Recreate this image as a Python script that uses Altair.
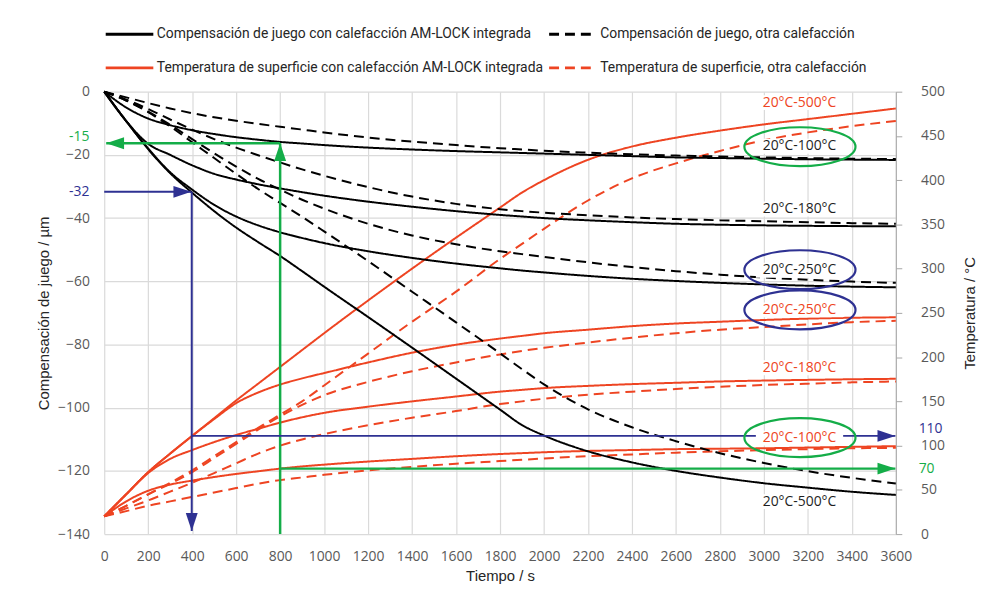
import altair as alt
import pandas as pd

# ---------------- data ----------------
tiempo = [0, 100, 200, 300, 400, 500, 600, 700, 800, 900, 1000, 1200, 1400, 1600,
          1800, 1900, 2000, 2200, 2400, 2600, 2800, 3000, 3200, 3400, 3600]

# Compensación de juego / µm, calefacción AM-LOCK integrada
juego_am_100 = [0, -5, -8.5, -10.6, -12.2, -13.4, -14.4, -15.2, -15.9, -16.4, -16.9, -17.7, -18.3,
                -18.8, -19.2, -19.4, -19.6, -20.0, -20.4, -20.8, -21.0, -21.2, -21.4, -21.5, -21.6]
juego_am_180 = [0, -9.3, -16.5, -20, -23.3, -26, -27.8, -29.3, -30.6, -31.8, -32.9, -34.8, -36.4,
                -37.8, -39.0, -39.5, -40.0, -40.7, -41.3, -41.8, -42.1, -42.3, -42.45, -42.55, -42.6]
juego_am_250 = [0, -9.3, -18, -25.5, -31, -35.8, -39.5, -42.3, -44.5, -46.3, -47.9, -50.5, -52.6,
                -54.4, -55.9, -56.6, -57.2, -58.3, -59.2, -59.9, -60.5, -61.0, -61.4, -61.7, -61.9]
juego_am_500 = [0, -9.3, -18.2, -25.8, -32, -37.8, -43, -47.6, -52, -56.8, -61.7, -71.3, -81,
                -90.8, -100.6, -105.5, -108.8, -113.8, -117.3, -120, -122.1, -123.9, -125.3, -126.6, -127.6]

# Compensación de juego / µm, otra calefacción
juego_otra_100 = [0, -1.8, -3.6, -5.3, -6.8, -8.1, -9.2, -10.2, -11.1, -12, -12.9, -14.5, -15.8,
                  -16.9, -17.9, -18.3, -18.7, -19.3, -19.8, -20.2, -20.5, -20.8, -21.0, -21.2, -21.3]
juego_otra_180 = [0, -2.5, -5.5, -8.8, -12, -15, -17.7, -20.1, -22.4, -24.6, -26.6, -30.2, -33.2,
                  -35.5, -37.2, -37.8, -38.3, -39.1, -39.8, -40.3, -40.7, -41.0, -41.3, -41.6, -41.8]
juego_otra_250 = [0, -2.8, -6.3, -10.5, -15, -19.5, -23.7, -27.6, -31, -34.2, -37, -41.8, -45.5,
                  -48.3, -50.5, -51.4, -52.3, -54, -55.5, -56.8, -57.9, -58.8, -59.5, -60.1, -60.5]
juego_otra_500 = [0, -2.8, -6.5, -11, -16, -21, -26, -30.8, -35.2, -39.6, -44.2, -53.6, -63.3,
                  -73, -82.8, -87.8, -92.6, -100.5, -106.2, -110.6, -114.4, -117.5, -120.1, -122.2, -124]

# Temperatura de superficie / °C, calefacción AM-LOCK integrada
temp_am_100 = [20, 37, 49, 56, 60.5, 64.5, 68, 71, 74, 76.5, 78.5, 82, 85, 88, 90.5, 91.5, 92.5,
               94, 95, 96, 96.5, 97, 97.8, 98.6, 99.4]
temp_am_180 = [20, 45, 69, 85, 95, 104, 112, 119, 126, 132, 137, 144, 150, 155.5, 161, 163, 165,
               167.5, 169.5, 171, 172.5, 173.5, 174.3, 175, 175.5]
temp_am_250 = [20, 45, 70, 91, 111, 130, 148, 160, 169, 176, 182, 194, 205, 214, 221, 224, 227,
               231, 235, 238, 240, 242, 243.5, 244.5, 245]
temp_am_500 = [20, 45, 70, 91, 111, 131, 151, 170, 189, 208, 227, 264, 300, 335, 369, 386, 400,
               423, 438, 448, 456, 463, 469, 475, 481]

# Temperatura de superficie / °C, otra calefacción
temp_otra_100 = [20, 26, 32, 37, 42, 47, 52, 57, 61, 64, 67, 72, 76, 79.5, 82.5, 84, 85.5, 88, 90,
                 92, 93.5, 95, 96, 97, 97.5]
temp_otra_180 = [20, 29, 38, 48, 58, 69, 80, 91, 100, 107, 113, 123, 131.5, 139, 147, 150, 153,
                 157.5, 161, 164, 166.5, 168.5, 170, 171.5, 172.5]
temp_otra_250 = [20, 32, 45, 57, 70, 86, 102, 118, 133, 146, 157, 172, 184, 194, 203, 207, 210.5,
                 216.5, 222, 227, 231, 234, 237, 239.5, 241]
temp_otra_500 = [20, 32, 45, 58, 72, 88, 104, 120, 135, 150, 168, 204, 240, 274, 311, 328, 345,
                 377, 402, 419, 433, 445, 454, 461, 467]

serie_juego_am = "Compensación de juego con calefacción AM-LOCK integrada"
serie_juego_otra = "Compensación de juego, otra calefacción"
serie_temp_am = "Temperatura de superficie con calefacción AM-LOCK integrada"
serie_temp_otra = "Temperatura de superficie, otra calefacción"
# legend entries are laid out column by column: first column, then second column
legend_order = [serie_juego_am, serie_temp_am, serie_juego_otra, serie_temp_otra]

x_ticks = [0, 200, 400, 600, 800, 1000, 1200, 1400, 1600, 1800, 2000, 2200, 2400, 2600, 2800,
           3000, 3200, 3400, 3600]
left_ticks = [0, -20, -40, -60, -80, -100, -120, -140]
right_ticks = [0, 50, 100, 150, 200, 250, 300, 350, 400, 450, 500]

# curve labels (x = tiempo, y = temperatura scale)
label_t = 3162
red_label_text = ["20°C-500°C", "20°C-250°C", "20°C-180°C", "20°C-100°C"]
red_label_y = [487.7, 253.4, 188, 108.4]
dark_label_text = ["20°C-100°C", "20°C-180°C", "20°C-250°C", "20°C-500°C"]
dark_label_y = [438.3, 367.4, 298.2, 36.7]
green_ellipse_y = [437.8, 109]
blue_ellipse_y = [298.8, 253.4]
ellipse_t = 3164

# reading arrows
green_t = 800
green_um = -16.3
green_um_label = ["-15"]
green_um_label_y = [-15]
green_temp = 74
green_temp_label = ["70"]
blue_t = 398
blue_um = -31.7
blue_um_label = ["-32"]
blue_temp = 111
blue_temp_label = ["110"]

# ---------------- styling ----------------
RED = "#ee4422"
BLACK = "#000000"
DARK = "#1e1e1e"
GREEN = "#14ad48"
BLUE = "#2e3192"
GRID = "#dadada"
TICK_TXT = "#595959"
TITLE_TXT = "#262626"
NUM_FONT = "Open Sans"
TITLE_FONT = "Liberation Sans"

ELLIPSE = ("M -1 0 C -1 -0.1933 -0.5523 -0.35 0 -0.35 C 0.5523 -0.35 1 -0.1933 1 0 "
           "C 1 0.1933 0.5523 0.35 0 0.35 C -0.5523 0.35 -1 0.1933 -1 0 Z")
BOX = "M -1 -0.17 L 1 -0.17 L 1 0.17 L -1 0.17 Z"
HEAD_R = "M 0 0 L -2 -0.667 L -2 0.667 Z"
HEAD_L = "M 0 0 L 2 -0.667 L 2 0.667 Z"
HEAD_U = "M 0 0 L -0.667 2 L 0.667 2 Z"
HEAD_D = "M 0 0 L -0.667 -2 L 0.667 -2 Z"

# ---------------- tables ----------------
def long_rows(serie, curva, vals):
    return [{"t": t, "v": v, "serie": serie, "curva": f"{serie} {curva}"} for t, v in zip(tiempo, vals)]

rows_j = []
for c, vals in [("100", juego_am_100), ("180", juego_am_180), ("250", juego_am_250), ("500", juego_am_500)]:
    rows_j += long_rows(serie_juego_am, c, vals)
for c, vals in [("100", juego_otra_100), ("180", juego_otra_180), ("250", juego_otra_250), ("500", juego_otra_500)]:
    rows_j += long_rows(serie_juego_otra, c, vals)
df_j = pd.DataFrame(rows_j)

rows_t = []
for c, vals in [("100", temp_am_100), ("180", temp_am_180), ("250", temp_am_250), ("500", temp_am_500)]:
    rows_t += long_rows(serie_temp_am, c, vals)
for c, vals in [("100", temp_otra_100), ("180", temp_otra_180), ("250", temp_otra_250), ("500", temp_otra_500)]:
    rows_t += long_rows(serie_temp_otra, c, vals)
df_t = pd.DataFrame(rows_t)

# ---------------- scales / axes ----------------
x_scale = alt.Scale(domain=[0, 3600], nice=False)
x_axis = alt.Axis(values=x_ticks, format="d", title="Tiempo / s", grid=True, gridColor=GRID,
                  gridWidth=1.2, domain=False, ticks=False, labelPadding=16, labelFont=NUM_FONT,
                  labelFontSize=14, labelColor=TICK_TXT, labelOverlap=False, labelFlush=False,
                  titleFont=TITLE_FONT, titleFontSize=15, titleFontWeight="normal",
                  titleColor=TITLE_TXT, titlePadding=5)
X = alt.X("t:Q", scale=x_scale, axis=x_axis)

yl_scale = alt.Scale(domain=[-140, 0], nice=False)
yl_axis = alt.Axis(values=left_ticks, orient="left", title="Compensación de juego / µm", grid=True,
                   gridColor=GRID, gridWidth=1.2, domain=False, ticks=False, labelPadding=15,
                   labelFont=NUM_FONT, labelFontSize=14, labelColor=TICK_TXT, labelOverlap=False,
                   titleFont=TITLE_FONT, titleFontSize=15, titleFontWeight="normal",
                   titleColor=TITLE_TXT, titlePadding=6)
yr_scale = alt.Scale(domain=[0, 500], nice=False)
yr_axis = alt.Axis(values=right_ticks, orient="right", title="Temperatura / °C", grid=False,
                   domain=True, domainColor="#a6a6a6", ticks=True, tickColor="#a6a6a6", tickSize=6,
                   labelPadding=19, labelFont=NUM_FONT, labelFontSize=14, labelColor=TICK_TXT,
                   labelOverlap=False, titleFont=TITLE_FONT, titleFontSize=15,
                   titleFontWeight="normal", titleColor=TITLE_TXT, titleAngle=270, titlePadding=33)

color_scale = alt.Scale(domain=legend_order, range=[BLACK, RED, BLACK, RED])
dash_scale = alt.Scale(domain=legend_order, range=[[1, 0], [1, 0], [10, 6], [10, 6]])
legend = alt.Legend(title=None, orient="none", legendX=0, legendY=-66, columns=2,
                    symbolType="stroke", symbolSize=2304, symbolStrokeWidth=3, clipHeight=16,
                    rowPadding=18, columnPadding=4, labelFont="Roboto", labelFontSize=14,
                    labelColor=TITLE_TXT, labelLimit=700, labelOffset=2, padding=0)

# ---------------- layers ----------------
red_lines = alt.Chart(df_t).mark_line(strokeWidth=2, interpolate="monotone").encode(
    x=X,
    y=alt.Y("v:Q", scale=yr_scale, axis=yr_axis),
    color=alt.Color("serie:N", scale=color_scale, legend=legend),
    strokeDash=alt.StrokeDash("serie:N", scale=dash_scale, legend=legend),
    detail="curva:N",
)

black_lines = alt.Chart(df_j).mark_line(strokeWidth=2, interpolate="monotone").encode(
    x=X,
    y=alt.Y("v:Q", scale=yl_scale, axis=yl_axis),
    color=alt.Color("serie:N", scale=color_scale, legend=legend),
    strokeDash=alt.StrokeDash("serie:N", scale=dash_scale, legend=legend),
    detail="curva:N",
)

YL = alt.Y("y:Q", scale=yl_scale, axis=None)
YR = alt.Y("y:Q", scale=yr_scale, axis=None)

# left-scale annotations
df_gv = pd.DataFrame({"t": [green_t], "y": [-140], "y2": [green_um]})
df_gh = pd.DataFrame({"t": [9], "t2": [green_t], "y": [green_um]})
df_bh = pd.DataFrame({"t": [0], "t2": [blue_t - 2], "y": [blue_um]})
df_bv = pd.DataFrame({"t": [blue_t], "y": [blue_um], "y2": [-139]})

left_ann = alt.layer(
    alt.Chart(df_gv).mark_rule(color=GREEN, strokeWidth=2.5).encode(x=X, y=YL, y2="y2:Q"),
    alt.Chart(df_gh).mark_rule(color=GREEN, strokeWidth=2.5).encode(x=X, x2="t2:Q", y=YL),
    alt.Chart(df_bh).mark_rule(color=BLUE, strokeWidth=2).encode(x=X, x2="t2:Q", y=YL),
    alt.Chart(df_bv).mark_rule(color=BLUE, strokeWidth=2).encode(x=X, y=YL, y2="y2:Q"),
    alt.Chart(pd.DataFrame({"t": [green_t], "y": [green_um]})).mark_point(
        shape=HEAD_U, size=324, filled=True, color=GREEN, opacity=1).encode(x=X, y=YL),
    alt.Chart(pd.DataFrame({"t": [9], "y": [green_um]})).mark_point(
        shape=HEAD_L, size=324, filled=True, color=GREEN, opacity=1).encode(x=X, y=YL),
    alt.Chart(pd.DataFrame({"t": [blue_t - 2], "y": [blue_um]})).mark_point(
        shape=HEAD_R, size=324, filled=True, color=BLUE, opacity=1).encode(x=X, y=YL),
    alt.Chart(pd.DataFrame({"t": [blue_t], "y": [-139]})).mark_point(
        shape=HEAD_D, size=324, filled=True, color=BLUE, opacity=1).encode(x=X, y=YL),
    alt.Chart(pd.DataFrame({"t": [0], "y": green_um_label_y, "txt": green_um_label})).mark_text(
        align="right", baseline="middle", dx=-15, dy=-2, font=NUM_FONT, fontSize=14, color=GREEN
    ).encode(x=X, y=YL, text="txt:N"),
    alt.Chart(pd.DataFrame({"t": [0], "y": [blue_um], "txt": blue_um_label})).mark_text(
        align="right", baseline="middle", dx=-15, font=NUM_FONT, fontSize=14, color=BLUE
    ).encode(x=X, y=YL, text="txt:N"),
)

# right-scale annotations
df_gh2 = pd.DataFrame({"t": [green_t], "t2": [3598], "y": [green_temp]})
df_bh2 = pd.DataFrame({"t": [blue_t], "t2": [3598], "y": [blue_temp]})
df_red_lab = pd.DataFrame({"t": [label_t] * 4, "y": red_label_y, "txt": red_label_text})
df_dark_lab = pd.DataFrame({"t": [label_t] * 4, "y": dark_label_y, "txt": dark_label_text})
df_boxes = pd.DataFrame({"t": [label_t] * 8, "y": red_label_y + dark_label_y})

right_ann = alt.layer(
    alt.Chart(df_gh2).mark_rule(color=GREEN, strokeWidth=2.5).encode(x=X, x2="t2:Q", y=YR),
    alt.Chart(df_bh2).mark_rule(color=BLUE, strokeWidth=2).encode(x=X, x2="t2:Q", y=YR),
    alt.Chart(pd.DataFrame({"t": [3598], "y": [green_temp]})).mark_point(
        shape=HEAD_R, size=324, filled=True, color=GREEN, opacity=1).encode(x=X, y=YR),
    alt.Chart(pd.DataFrame({"t": [3598], "y": [blue_temp]})).mark_point(
        shape=HEAD_R, size=324, filled=True, color=BLUE, opacity=1).encode(x=X, y=YR),
    alt.Chart(pd.DataFrame({"t": [3600], "y": [green_temp], "txt": green_temp_label})).mark_text(
        align="left", baseline="middle", dx=23, font=NUM_FONT, fontSize=14, color=GREEN
    ).encode(x=X, y=YR, text="txt:N"),
    alt.Chart(pd.DataFrame({"t": [3600], "y": [blue_temp], "txt": blue_temp_label})).mark_text(
        align="left", baseline="middle", dx=23, dy=-7, font=NUM_FONT, fontSize=14, color=BLUE
    ).encode(x=X, y=YR, text="txt:N"),
    alt.Chart(df_boxes).mark_point(shape=BOX, size=7744, filled=True, color="#ffffff",
                                   opacity=1).encode(x=X, y=YR),
    alt.Chart(df_red_lab).mark_text(align="center", baseline="middle", font=NUM_FONT,
                                    fontSize=14, color=RED).encode(x=X, y=YR, text="txt:N"),
    alt.Chart(df_dark_lab).mark_text(align="center", baseline="middle", font=NUM_FONT,
                                     fontSize=14, color=DARK).encode(x=X, y=YR, text="txt:N"),
    alt.Chart(pd.DataFrame({"t": [ellipse_t] * 2, "y": green_ellipse_y})).mark_point(
        shape=ELLIPSE, size=12544, filled=False, color=GREEN, strokeWidth=2.2, opacity=1
    ).encode(x=X, y=YR),
    alt.Chart(pd.DataFrame({"t": [ellipse_t] * 2, "y": blue_ellipse_y})).mark_point(
        shape=ELLIPSE, size=12544, filled=False, color=BLUE, strokeWidth=2.2, opacity=1
    ).encode(x=X, y=YR),
)

chart = alt.layer(red_lines, black_lines, left_ann, right_ann).resolve_scale(
    y="independent"
).properties(
    width=798,
    height=446,
    padding={"left": 97, "top": 82, "right": 102, "bottom": 54},
    autosize=alt.AutoSizeParams(type="none"),
    background="#ffffff",
).configure_view(strokeWidth=0)

chart.save("out.html", embed_options={"renderer": "svg", "actions": False})
